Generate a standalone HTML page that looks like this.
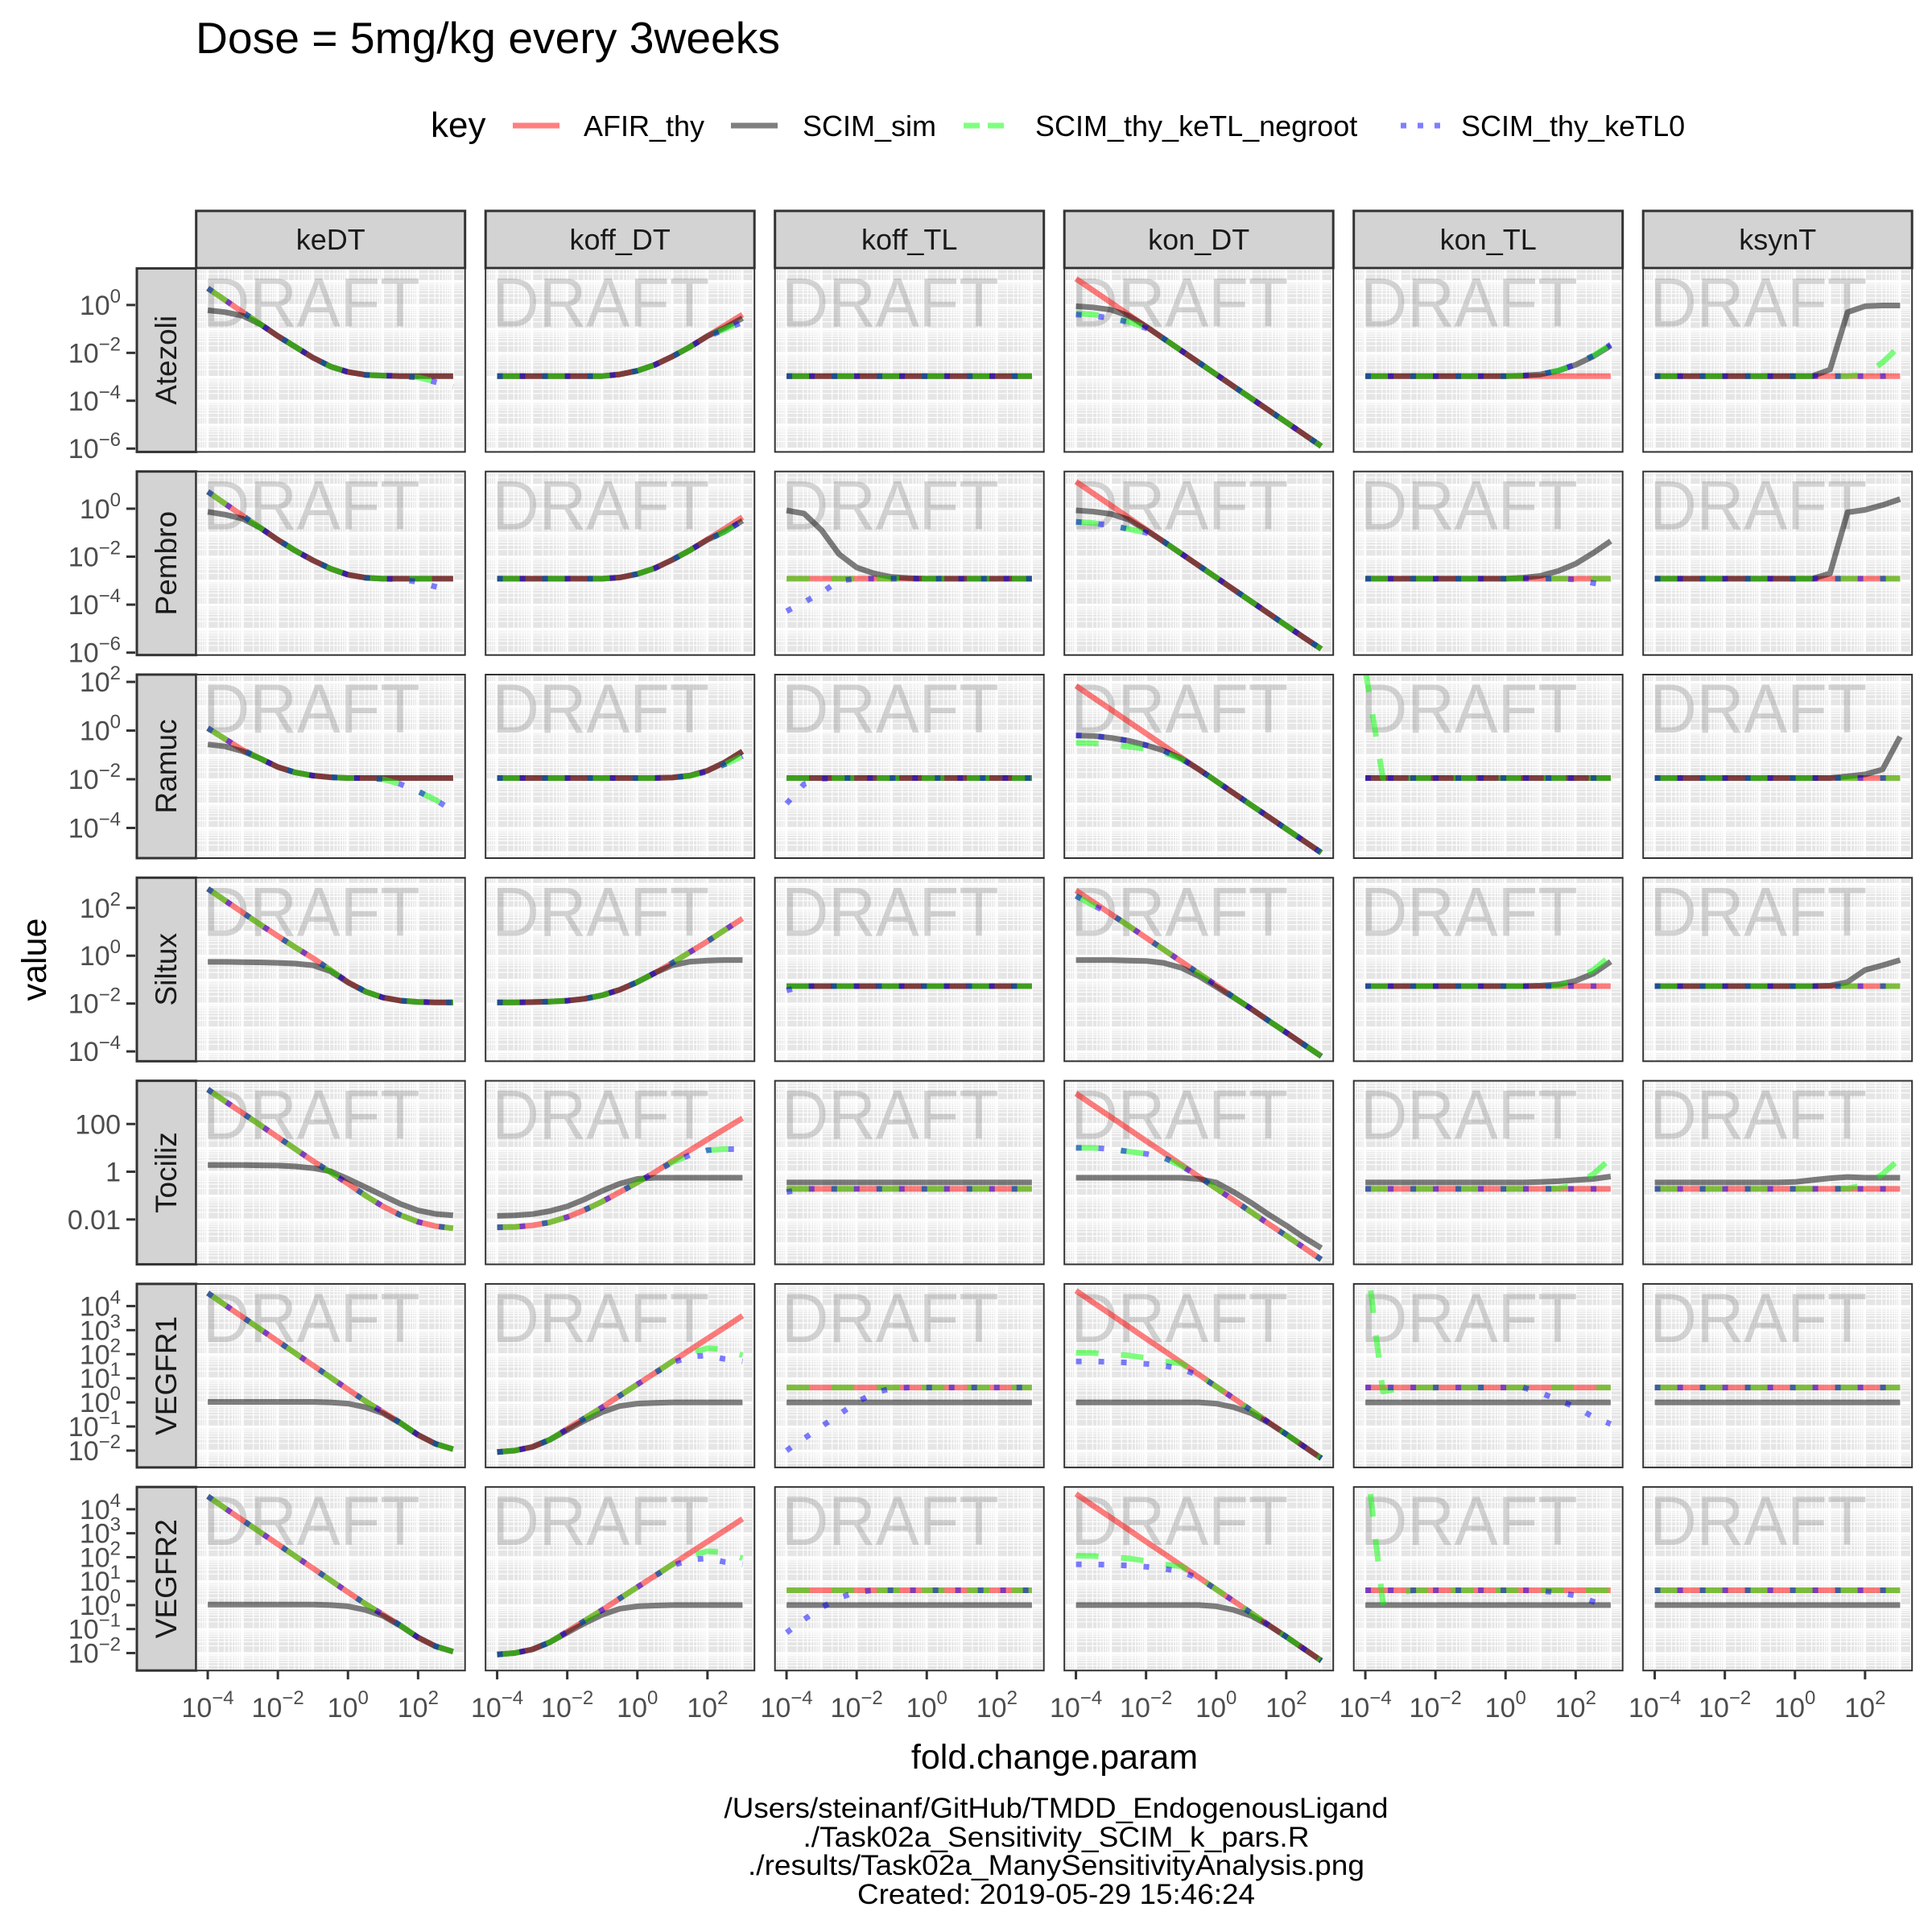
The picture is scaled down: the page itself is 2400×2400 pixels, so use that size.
<!DOCTYPE html>
<html><head><meta charset="utf-8">
<style>
html,body{margin:0;padding:0;background:#fff;}
svg{display:block;font-family:"Liberation Sans",Arial,sans-serif;}
</style></head>
<body>
<svg id="chart" width="2400" height="2400" viewBox="0 0 2400 2400" xmlns="http://www.w3.org/2000/svg">
<text x="243" y="66" font-size="55" fill="#000" textLength="726" lengthAdjust="spacingAndGlyphs">Dose = 5mg/kg every 3weeks</text>
<g>
<text x="535" y="170" font-size="44" fill="#000">key</text>
<g><line x1="637" y1="156" x2="695" y2="156" stroke="rgba(255,0,0,0.5)" stroke-width="7"/><text x="725" y="169" font-size="36" fill="#000">AFIR_thy</text></g>
<g><line x1="908" y1="156" x2="966" y2="156" stroke="rgba(0,0,0,0.5)" stroke-width="7"/><text x="997" y="169" font-size="36" fill="#000">SCIM_sim</text></g>
<g><line x1="1197" y1="156" x2="1255" y2="156" stroke="rgba(0,255,0,0.5)" stroke-width="7" stroke-dasharray="20 10"/><text x="1286" y="169" font-size="36" fill="#000">SCIM_thy_keTL_negroot</text></g>
<g><line x1="1740" y1="156" x2="1798" y2="156" stroke="rgba(0,0,255,0.5)" stroke-width="7" stroke-dasharray="7 14"/><text x="1815" y="169" font-size="36" fill="#000">SCIM_thy_keTL0</text></g>
</g>
<text x="1310" y="2197" font-size="43" text-anchor="middle" fill="#000">fold.change.param</text>
<text transform="translate(57,1192) rotate(-90)" font-size="43" text-anchor="middle" fill="#000">value</text>
<g font-size="35" fill="#000" text-anchor="middle">
<text x="1312" y="2258" textLength="825" lengthAdjust="spacingAndGlyphs">/Users/steinanf/GitHub/TMDD_EndogenousLigand</text>
<text x="1312" y="2294" textLength="629" lengthAdjust="spacingAndGlyphs">./Task02a_Sensitivity_SCIM_k_pars.R</text>
<text x="1312" y="2329" textLength="766" lengthAdjust="spacingAndGlyphs">./results/Task02a_ManySensitivityAnalysis.png</text>
<text x="1312" y="2365" textLength="494" lengthAdjust="spacingAndGlyphs">Created: 2019-05-29 15:46:24</text>
</g>
</svg>
<script>
const xLog = [-4,-3.5,-3,-2.5,-2,-1.5,-1,-0.5,0,0.5,1,1.5,2,2.5,3];
const colNames = ["keDT","koff_DT","koff_TL","kon_DT","kon_TL","ksynT"];
const rowNames = ["Atezoli","Pembro","Ramuc","Siltux","Tociliz","VEGFR1","VEGFR2"];
const rowTopLog = [1.53,1.55,2.30,3.26,3.81,4.92,4.93];
const rowBotLog = [-6.14,-6.1,-5.24,-4.41,-3.88,-2.70,-2.73];
const rowTicks = [[0,-2,-4,-6],[0,-2,-4,-6],[2,0,-2,-4],[2,0,-2,-4],[2,0,-2],[4,3,2,1,0,-1,-2],[4,3,2,1,0,-1,-2]];
const plainTickLabels = ["100","1","0.01"];
const xTicks = [-4,-2,0,2];
const seriesNames = ["AFIR_thy","SCIM_sim","SCIM_thy_keTL_negroot","SCIM_thy_keTL0"];

// Atezoli
const a_flat = [-2.97,-2.97,-2.97,-2.97,-2.97,-2.97,-2.97,-2.97,-2.97,-2.97,-2.97,-2.97,-2.97,-2.97,-2.97];
const a_keDT_afir = [0.7,0.2,-0.3,-0.8,-1.3,-1.75,-2.2,-2.57,-2.8,-2.92,-2.95,-2.97,-2.97,-2.97,-2.97];
const a_keDT_sim = [-0.22,-0.3,-0.45,-0.8,-1.3,-1.75,-2.2,-2.57,-2.8,-2.92,-2.95,-2.97,-2.97,-2.97,-2.97];
const a_keDT_neg = [0.7,0.2,-0.3,-0.8,-1.3,-1.75,-2.2,-2.57,-2.8,-2.92,-2.95,-2.97,-3.02,-3.2,-3.4];
const a_keDT_ke0 = [0.7,0.2,-0.3,-0.8,-1.3,-1.75,-2.2,-2.57,-2.8,-2.92,-2.95,-2.97,-3.03,-3.22,-3.42];
const a_koffDT_afir = [-2.97,-2.97,-2.97,-2.97,-2.97,-2.97,-2.97,-2.9,-2.75,-2.5,-2.15,-1.75,-1.3,-0.85,-0.4];
const a_koffDT_sim = [-2.97,-2.97,-2.97,-2.97,-2.97,-2.97,-2.97,-2.9,-2.75,-2.5,-2.15,-1.75,-1.3,-0.95,-0.55];
const a_koffDT_neg = [-2.97,-2.97,-2.97,-2.97,-2.97,-2.97,-2.97,-2.9,-2.75,-2.5,-2.15,-1.75,-1.3,-1.0,-0.7];
const a_koffDT_ke0 = [-2.97,-2.97,-2.97,-2.97,-2.97,-2.97,-2.97,-2.9,-2.75,-2.5,-2.15,-1.75,-1.32,-1.02,-0.72];
const a_konDT_afir = [1.1,0.6,0.1,-0.4,-0.9,-1.4,-1.9,-2.4,-2.9,-3.4,-3.9,-4.4,-4.9,-5.4,-5.9];
const a_konDT_sim = [-0.05,-0.1,-0.2,-0.45,-0.9,-1.4,-1.9,-2.4,-2.9,-3.4,-3.9,-4.4,-4.9,-5.4,-5.9];
const a_konDT_neg = [-0.35,-0.4,-0.5,-0.7,-0.95,-1.4,-1.9,-2.4,-2.9,-3.4,-3.9,-4.4,-4.9,-5.4,-5.9];
const a_konDT_ke0 = [-0.4,-0.45,-0.55,-0.72,-0.97,-1.4,-1.9,-2.4,-2.9,-3.4,-3.9,-4.4,-4.9,-5.4,-5.9];
const a_konTL_sim = [-2.97,-2.97,-2.97,-2.97,-2.97,-2.97,-2.97,-2.97,-2.97,-2.95,-2.9,-2.75,-2.5,-2.15,-1.7];
const a_konTL_neg = [-2.97,-2.97,-2.97,-2.97,-2.97,-2.97,-2.97,-2.97,-2.97,-2.95,-2.9,-2.74,-2.48,-2.12,-1.65];
const a_ksynT_sim = [-2.97,-2.97,-2.97,-2.97,-2.97,-2.97,-2.97,-2.97,-2.97,-2.97,-2.7,-0.3,-0.05,-0.02,-0.02];
const a_ksynT_neg = [-2.97,-2.97,-2.97,-2.97,-2.97,-2.97,-2.97,-2.97,-2.97,-2.97,-2.97,-2.97,-2.9,-2.4,-1.7];

// Pembro
const p_flat = [-2.92,-2.92,-2.92,-2.92,-2.92,-2.92,-2.92,-2.92,-2.92,-2.92,-2.92,-2.92,-2.92,-2.92,-2.92];
const p_keDT_afir = [0.71,0.2,-0.3,-0.8,-1.3,-1.75,-2.15,-2.5,-2.75,-2.88,-2.92,-2.92,-2.92,-2.92,-2.92];
const p_keDT_sim = [-0.13,-0.25,-0.42,-0.8,-1.3,-1.75,-2.15,-2.5,-2.75,-2.88,-2.92,-2.92,-2.92,-2.92,-2.92];
const p_keDT_ke0 = [0.71,0.2,-0.3,-0.8,-1.3,-1.75,-2.15,-2.5,-2.75,-2.88,-2.92,-2.95,-3.05,-3.25,-3.45];
const p_koffDT_afir = [-2.92,-2.92,-2.92,-2.92,-2.92,-2.92,-2.92,-2.87,-2.72,-2.48,-2.13,-1.73,-1.28,-0.83,-0.35];
const p_koffDT_sim = [-2.92,-2.92,-2.92,-2.92,-2.92,-2.92,-2.92,-2.87,-2.72,-2.48,-2.13,-1.73,-1.3,-0.95,-0.5];
const p_koffTL_sim = [-0.07,-0.2,-0.9,-1.9,-2.45,-2.7,-2.85,-2.9,-2.92,-2.92,-2.92,-2.92,-2.92,-2.92,-2.92];
const p_koffTL_ke0 = [-4.27,-3.9,-3.5,-3.0,-2.92,-2.92,-2.92,-2.92,-2.92,-2.92,-2.92,-2.92,-2.92,-2.92,-2.92];
const p_konDT_afir = [1.13,0.63,0.13,-0.37,-0.87,-1.37,-1.87,-2.37,-2.87,-3.37,-3.87,-4.37,-4.87,-5.37,-5.85];
const p_konDT_sim = [-0.07,-0.12,-0.22,-0.45,-0.9,-1.37,-1.87,-2.37,-2.87,-3.37,-3.87,-4.37,-4.87,-5.37,-5.85];
const p_konDT_ke0 = [-0.55,-0.6,-0.7,-0.85,-1.0,-1.37,-1.87,-2.37,-2.87,-3.37,-3.87,-4.37,-4.87,-5.37,-5.85];
const p_konTL_sim = [-2.92,-2.92,-2.92,-2.92,-2.92,-2.92,-2.92,-2.92,-2.92,-2.88,-2.8,-2.6,-2.3,-1.85,-1.35];
const p_konTL_ke0 = [-2.92,-2.92,-2.92,-2.92,-2.92,-2.92,-2.92,-2.92,-2.92,-2.92,-2.92,-2.92,-2.95,-3.1,-3.2];
const p_ksynT_sim = [-2.92,-2.92,-2.92,-2.92,-2.92,-2.92,-2.92,-2.92,-2.92,-2.92,-2.7,-0.15,-0.05,0.15,0.4];

// Ramuc
const r_flat = [-1.95,-1.95,-1.95,-1.95,-1.95,-1.95,-1.95,-1.95,-1.95,-1.95,-1.95,-1.95,-1.95,-1.95,-1.95];
const r_keDT_afir = [0.1,-0.35,-0.8,-1.15,-1.5,-1.72,-1.85,-1.92,-1.95,-1.95,-1.95,-1.95,-1.95,-1.95,-1.95];
const r_keDT_sim = [-0.57,-0.65,-0.85,-1.15,-1.5,-1.72,-1.85,-1.92,-1.95,-1.95,-1.95,-1.95,-1.95,-1.95,-1.95];
const r_keDT_neg = [0.1,-0.35,-0.8,-1.15,-1.5,-1.72,-1.85,-1.92,-1.95,-1.95,-2.0,-2.2,-2.5,-2.85,-3.3];
const r_koffDT_afir = [-1.95,-1.95,-1.95,-1.95,-1.95,-1.95,-1.95,-1.95,-1.95,-1.95,-1.93,-1.85,-1.65,-1.3,-0.85];
const r_koffDT_neg = [-1.95,-1.95,-1.95,-1.95,-1.95,-1.95,-1.95,-1.95,-1.95,-1.95,-1.93,-1.86,-1.68,-1.38,-1.05];
const r_koffTL_ke0 = [-3.0,-2.2,-1.98,-1.95,-1.95,-1.95,-1.95,-1.95,-1.95,-1.95,-1.95,-1.95,-1.95,-1.95,-1.95];
const r_konDT_afir = [1.84,1.35,0.86,0.37,-0.12,-0.61,-1.1,-1.59,-2.08,-2.57,-3.06,-3.55,-4.04,-4.53,-5.02];
const r_konDT_sim = [-0.2,-0.22,-0.3,-0.42,-0.6,-0.82,-1.15,-1.59,-2.08,-2.57,-3.06,-3.55,-4.04,-4.53,-5.02];
const r_konDT_neg = [-0.5,-0.52,-0.58,-0.66,-0.75,-0.9,-1.17,-1.59,-2.08,-2.57,-3.06,-3.55,-4.04,-4.53,-5.02];
const r_konTL_neg = [2.5,-1.95,-1.95,-1.95,-1.95,-1.95,-1.95,-1.95,-1.95,-1.95,-1.95,-1.95,-1.95,-1.95,-1.95];
const r_ksynT_sim = [-1.95,-1.95,-1.95,-1.95,-1.95,-1.95,-1.95,-1.95,-1.95,-1.95,-1.95,-1.88,-1.8,-1.6,-0.25];

// Siltux
const s_flat = [-1.27,-1.27,-1.27,-1.27,-1.27,-1.27,-1.27,-1.27,-1.27,-1.27,-1.27,-1.27,-1.27,-1.27,-1.27];
const s_keDT_afir = [2.8,2.3,1.8,1.3,0.82,0.35,-0.1,-0.6,-1.1,-1.5,-1.75,-1.88,-1.93,-1.95,-1.95];
const s_keDT_sim = [-0.26,-0.26,-0.27,-0.28,-0.3,-0.33,-0.4,-0.65,-1.12,-1.5,-1.75,-1.88,-1.93,-1.95,-1.95];
const s_koffDT_afir = [-1.95,-1.95,-1.94,-1.92,-1.88,-1.8,-1.65,-1.42,-1.1,-0.72,-0.3,0.15,0.6,1.08,1.55];
const s_koffDT_sim = [-1.95,-1.95,-1.94,-1.92,-1.88,-1.8,-1.65,-1.42,-1.1,-0.72,-0.4,-0.25,-0.2,-0.18,-0.18];
const s_koffTL_ke0 = [-1.45,-1.27,-1.27,-1.27,-1.27,-1.27,-1.27,-1.27,-1.27,-1.27,-1.27,-1.27,-1.27,-1.27,-1.27];
const s_konDT_afir = [2.73,2.24,1.74,1.25,0.75,0.26,-0.24,-0.74,-1.23,-1.73,-2.22,-2.72,-3.21,-3.71,-4.2];
const s_konDT_sim = [-0.18,-0.18,-0.18,-0.2,-0.22,-0.3,-0.5,-0.85,-1.3,-1.75,-2.22,-2.72,-3.21,-3.71,-4.2];
const s_konDT_neg = [2.5,2.1,1.74,1.25,0.75,0.26,-0.24,-0.74,-1.23,-1.73,-2.22,-2.72,-3.21,-3.71,-4.2];
const s_konTL_sim = [-1.27,-1.27,-1.27,-1.27,-1.27,-1.27,-1.27,-1.27,-1.27,-1.27,-1.25,-1.2,-1.05,-0.75,-0.25];
const s_konTL_neg = [-1.27,-1.27,-1.27,-1.27,-1.27,-1.27,-1.27,-1.27,-1.27,-1.27,-1.27,-1.27,-1.0,-0.6,0.0];
const s_ksynT_sim = [-1.27,-1.27,-1.27,-1.27,-1.27,-1.27,-1.27,-1.27,-1.27,-1.27,-1.25,-1.1,-0.6,-0.4,-0.18];

// Tociliz
const t_flat = [-0.72,-0.72,-0.72,-0.72,-0.72,-0.72,-0.72,-0.72,-0.72,-0.72,-0.72,-0.72,-0.72,-0.72,-0.72];
const t_simflat = [-0.45,-0.45,-0.45,-0.45,-0.45,-0.45,-0.45,-0.45,-0.45,-0.45,-0.45,-0.45,-0.45,-0.45,-0.45];
const t_keDT_afir = [3.45,2.95,2.45,1.95,1.45,0.95,0.45,-0.02,-0.5,-1.0,-1.45,-1.82,-2.1,-2.28,-2.37];
const t_keDT_sim = [0.28,0.28,0.28,0.27,0.26,0.22,0.15,0.02,-0.3,-0.65,-1.0,-1.35,-1.62,-1.77,-1.83];
const t_koffDT_afir = [-2.33,-2.31,-2.25,-2.12,-1.9,-1.6,-1.25,-0.85,-0.45,-0.02,0.45,0.9,1.35,1.8,2.24];
const t_koffDT_sim = [-1.85,-1.83,-1.78,-1.65,-1.45,-1.15,-0.8,-0.5,-0.3,-0.25,-0.25,-0.25,-0.25,-0.25,-0.25];
const t_koffDT_neg = [-2.33,-2.31,-2.25,-2.12,-1.9,-1.6,-1.25,-0.85,-0.45,-0.02,0.4,0.7,0.9,0.95,0.94];
const t_koffTL_ke0 = [-0.85,-0.72,-0.72,-0.72,-0.72,-0.72,-0.72,-0.72,-0.72,-0.72,-0.72,-0.72,-0.72,-0.72,-0.72];
const t_konDT_afir = [3.28,2.78,2.29,1.79,1.29,0.8,0.3,-0.2,-0.7,-1.19,-1.69,-2.19,-2.68,-3.18,-3.68];
const t_konDT_sim = [-0.25,-0.25,-0.25,-0.25,-0.25,-0.25,-0.25,-0.3,-0.45,-0.85,-1.3,-1.8,-2.25,-2.75,-3.2];
const t_konDT_neg = [1.0,1.0,0.95,0.85,0.75,0.6,0.25,-0.2,-0.7,-1.19,-1.69,-2.19,-2.68,-3.18,-3.68];
const t_konTL_sim = [-0.45,-0.45,-0.45,-0.45,-0.45,-0.45,-0.45,-0.45,-0.45,-0.45,-0.43,-0.4,-0.35,-0.3,-0.2];
const t_konTL_neg = [-0.72,-0.72,-0.72,-0.72,-0.72,-0.72,-0.72,-0.72,-0.72,-0.72,-0.72,-0.7,-0.55,-0.1,0.55];
const t_ksynT_sim = [-0.45,-0.45,-0.45,-0.45,-0.45,-0.45,-0.45,-0.45,-0.43,-0.35,-0.27,-0.22,-0.25,-0.25,-0.25];

// VEGFR1 / VEGFR2
const v_top = [0.62,0.62,0.62,0.62,0.62,0.62,0.62,0.62,0.62,0.62,0.62,0.62,0.62,0.62,0.62];
const v_zero = [0,0,0,0,0,0,0,0,0,0,0,0,0,0,0];
const v_keDT_afir = [4.54,4.04,3.54,3.04,2.54,2.04,1.54,1.04,0.54,0.05,-0.4,-0.85,-1.35,-1.72,-1.94];
const v_keDT_sim = [0.02,0.02,0.02,0.02,0.02,0.02,0.02,0.0,-0.05,-0.2,-0.45,-0.87,-1.35,-1.72,-1.94];
const v_koffDT_afir = [-2.06,-2.0,-1.85,-1.55,-1.1,-0.65,-0.2,0.28,0.75,1.22,1.7,2.18,2.65,3.12,3.6];
const v_koffDT_sim = [-2.06,-2.0,-1.85,-1.55,-1.15,-0.75,-0.4,-0.15,-0.05,-0.02,0,0,0,0,0];
const v_koffDT_neg = [-2.06,-2.0,-1.85,-1.55,-1.1,-0.65,-0.2,0.28,0.75,1.22,1.7,2.05,2.25,2.2,1.96];
const v_koffDT_ke0 = [-2.06,-2.0,-1.85,-1.55,-1.1,-0.65,-0.2,0.28,0.75,1.22,1.65,1.9,1.95,1.8,1.7];
const v_koffTL_ke0 = [-2.0,-1.5,-1.0,-0.5,0.0,0.4,0.58,0.62,0.62,0.62,0.62,0.62,0.62,0.62,0.62];
const v_konDT_afir = [4.64,4.14,3.65,3.15,2.65,2.16,1.66,1.16,0.66,0.17,-0.33,-0.83,-1.32,-1.82,-2.32];
const v_konDT_sim = [0,0,0,0,0,0,0,0,-0.05,-0.2,-0.45,-0.85,-1.32,-1.82,-2.32];
const v_konDT_neg = [2.06,2.05,2.0,1.95,1.85,1.7,1.62,1.16,0.66,0.17,-0.33,-0.83,-1.32,-1.82,-2.32];
const v_konDT_ke0 = [1.7,1.7,1.68,1.65,1.6,1.52,1.4,1.12,0.66,0.17,-0.33,-0.83,-1.32,-1.82,-2.32];
const v_konTL_neg = [6.5,0.45,0.58,0.62,0.62,0.62,0.62,0.62,0.62,0.62,0.62,0.62,0.62,0.62,0.62];
const v_konTL_ke0 = [0.62,0.62,0.62,0.62,0.62,0.62,0.62,0.62,0.62,0.62,0.4,0.1,-0.2,-0.6,-0.9];
const w_koffTL_ke0 = [-1.15,-0.6,-0.1,0.3,0.55,0.62,0.62,0.62,0.62,0.62,0.62,0.62,0.62,0.62,0.62];
const w_konTL_neg = [6.5,0.1,0.55,0.62,0.62,0.62,0.62,0.62,0.62,0.62,0.62,0.62,0.62,0.62,0.62];
const w_konTL_ke0 = [0.62,0.62,0.62,0.62,0.62,0.62,0.62,0.62,0.62,0.62,0.6,0.52,0.4,0.15,-0.1];

// panel -> [AFIR_thy, SCIM_sim, negroot, keTL0]
const panelSeries = [
 [[a_keDT_afir,a_keDT_sim,a_keDT_neg,a_keDT_ke0],[a_koffDT_afir,a_koffDT_sim,a_koffDT_neg,a_koffDT_ke0],[a_flat,a_flat,a_flat,a_flat],[a_konDT_afir,a_konDT_sim,a_konDT_neg,a_konDT_ke0],[a_flat,a_konTL_sim,a_konTL_neg,a_konTL_neg],[a_flat,a_ksynT_sim,a_ksynT_neg,a_flat]],
 [[p_keDT_afir,p_keDT_sim,p_keDT_afir,p_keDT_ke0],[p_koffDT_afir,p_koffDT_sim,p_koffDT_sim,p_koffDT_sim],[p_flat,p_koffTL_sim,p_flat,p_koffTL_ke0],[p_konDT_afir,p_konDT_sim,p_konDT_ke0,p_konDT_ke0],[p_flat,p_konTL_sim,p_flat,p_konTL_ke0],[p_flat,p_ksynT_sim,p_flat,p_flat]],
 [[r_keDT_afir,r_keDT_sim,r_keDT_neg,r_keDT_neg],[r_koffDT_afir,r_koffDT_afir,r_koffDT_neg,r_koffDT_neg],[r_flat,r_flat,r_flat,r_koffTL_ke0],[r_konDT_afir,r_konDT_sim,r_konDT_neg,r_konDT_sim],[r_flat,r_flat,r_konTL_neg,r_flat],[r_flat,r_ksynT_sim,r_flat,r_flat]],
 [[s_keDT_afir,s_keDT_sim,s_keDT_afir,s_keDT_afir],[s_koffDT_afir,s_koffDT_sim,s_koffDT_afir,s_koffDT_afir],[s_flat,s_flat,s_flat,s_koffTL_ke0],[s_konDT_afir,s_konDT_sim,s_konDT_neg,s_konDT_neg],[s_flat,s_konTL_sim,s_konTL_neg,s_flat],[s_flat,s_ksynT_sim,s_flat,s_flat]],
 [[t_keDT_afir,t_keDT_sim,t_keDT_afir,t_keDT_afir],[t_koffDT_afir,t_koffDT_sim,t_koffDT_neg,t_koffDT_neg],[t_flat,t_simflat,t_flat,t_koffTL_ke0],[t_konDT_afir,t_konDT_sim,t_konDT_neg,t_konDT_neg],[t_flat,t_konTL_sim,t_konTL_neg,t_flat],[t_flat,t_ksynT_sim,t_konTL_neg,t_flat]],
 [[v_keDT_afir,v_keDT_sim,v_keDT_afir,v_keDT_afir],[v_koffDT_afir,v_koffDT_sim,v_koffDT_neg,v_koffDT_ke0],[v_top,v_zero,v_top,v_koffTL_ke0],[v_konDT_afir,v_konDT_sim,v_konDT_neg,v_konDT_ke0],[v_top,v_zero,v_konTL_neg,v_konTL_ke0],[v_top,v_zero,v_top,v_top]],
 [[v_keDT_afir,v_keDT_sim,v_keDT_afir,v_keDT_afir],[v_koffDT_afir,v_koffDT_sim,v_koffDT_neg,v_koffDT_ke0],[v_top,v_zero,v_top,w_koffTL_ke0],[v_konDT_afir,v_konDT_sim,v_konDT_neg,v_konDT_ke0],[v_top,v_zero,w_konTL_neg,w_konTL_ke0],[v_top,v_zero,v_top,v_top]]
];

(function(){
const NS = "http://www.w3.org/2000/svg";
const svg = document.getElementById("chart");
const PL = 243.7, PP = 359.5, PW = 334, PT = 333.4, RP = 252.3, PH = 228;
const XMIN = -4.33, XMAX = 3.34;
const strokes = ["rgba(255,0,0,0.5)","rgba(0,0,0,0.5)","rgba(0,255,0,0.5)","rgba(0,0,255,0.5)"];
const dashes = [null,null,"28 28","7 21"];
const slug = ["afir-thy","scim-sim","negroot","ketl0"];
function el(tag, attrs, parent){
  const e = document.createElementNS(NS, tag);
  for (const k in attrs) e.setAttribute(k, attrs[k]);
  (parent||svg).appendChild(e);
  return e;
}
const defs = el("defs", {});
function xScale(c, lx){ return PL + c*PP + (lx - XMIN)/(XMAX - XMIN)*PW; }
function yScale(r, ly){ return PT + r*RP + (rowTopLog[r] - ly)/(rowTopLog[r] - rowBotLog[r])*PH; }

for (let c = 0; c < 6; c++) {
  const g = el("g", {});
  
  
  el("rect", {x: PL + c*PP, y: 262, width: PW, height: 71, fill: "#D3D3D3", stroke: "#333", "stroke-width": 3}, g);
  const t = el("text", {x: PL + c*PP + PW/2, y: 310, "font-size": 36, "text-anchor": "middle", fill: "#1A1A1A"}, g);
  t.textContent = colNames[c];
}
for (let r = 0; r < 7; r++) {
  const top = PT + r*RP;
  const sg = el("g", {});
  
  
  el("rect", {x: 170, y: top, width: 73.7, height: PH, fill: "#D3D3D3", stroke: "#333", "stroke-width": 3}, sg);
  const st = el("text", {transform: "translate(219," + (top + PH/2) + ") rotate(-90)", "font-size": 37, "text-anchor": "middle", fill: "#1A1A1A"}, sg);
  st.textContent = rowNames[r];
  const ya = el("g", {});
  
  
  rowTicks[r].forEach((tv, i) => {
    const y = yScale(r, tv);
    el("line", {x1: 157, x2: 168, y1: y, y2: y, stroke: "#333", "stroke-width": 3}, ya);
    const t = el("text", {x: 150, y: y + 12, "font-size": 34, "text-anchor": "end", fill: "#4D4D4D"}, ya);
    if (r === 4) { t.textContent = plainTickLabels[i]; }
    else {
      const b = el("tspan", {}, t); b.textContent = "10";
      const s = el("tspan", {dy: -15, "font-size": 24}, t); s.textContent = (tv < 0 ? "\u2212" + (-tv) : "" + tv);
    }
  });
  for (let c = 0; c < 6; c++) {
    const left = PL + c*PP;
    const pg = el("g", {});
    
    
    const cp = el("clipPath", {id: "cp" + r + "_" + c}, defs);
    el("rect", {x: left, y: top, width: PW, height: PH}, cp);
    el("rect", {x: left, y: top, width: PW, height: PH, fill: "#E5E5E5"}, pg);
    const grid = el("g", {"clip-path": "url(#cp" + r + "_" + c + ")", stroke: "#fff"}, pg);
    for (let d = -5; d <= 3; d++) for (let m = 1; m <= 9; m++) {
      const lx = d + Math.log10(m);
      if (lx < XMIN || lx > XMAX) continue;
      const x = xScale(c, lx);
      el("line", {x1: x, x2: x, y1: top, y2: top + PH, "stroke-width": m === 1 ? 2.2 : 1.1}, grid);
    }
    for (let d = Math.floor(rowBotLog[r]); d <= Math.ceil(rowTopLog[r]); d++) for (let m = 1; m <= 9; m++) {
      const ly = d + Math.log10(m);
      if (ly < rowBotLog[r] || ly > rowTopLog[r]) continue;
      const y = yScale(r, ly);
      el("line", {x1: left, x2: left + PW, y1: y, y2: y, "stroke-width": m === 1 ? 2.2 : 1.1}, grid);
    }
    const wm = el("text", {x: left + 8, y: top + 72, "font-size": 86, fill: "rgba(150,150,150,0.4)", textLength: 270, lengthAdjust: "spacingAndGlyphs"}, pg);
    
    
    wm.textContent = "DRAFT";
    const lg = el("g", {"clip-path": "url(#cp" + r + "_" + c + ")"}, pg);
    panelSeries[r][c].forEach((vals, s) => {
      const pts = vals.map((v, i) => xScale(c, xLog[i]).toFixed(1) + "," + yScale(r, v).toFixed(1)).join(" ");
      const pl = el("polyline", {points: pts, fill: "none", stroke: strokes[s], "stroke-width": 7, "stroke-linejoin": "round"}, lg);
      if (dashes[s]) pl.setAttribute("stroke-dasharray", dashes[s]);
      
      
    });
    el("rect", {x: left, y: top, width: PW, height: PH, fill: "none", stroke: "#333", "stroke-width": 2}, pg);
    if (r === 6) {
      const xa = el("g", {});
      
      
      xTicks.forEach(tv => {
        const x = xScale(c, tv);
        el("line", {x1: x, x2: x, y1: top + PH, y2: top + PH + 11, stroke: "#333", "stroke-width": 3}, xa);
        const t = el("text", {x: x, y: 2133, "font-size": 34, "text-anchor": "middle", fill: "#4D4D4D"}, xa);
        const b = el("tspan", {}, t); b.textContent = "10";
        const sp = el("tspan", {dy: -16, "font-size": 24}, t); sp.textContent = (tv < 0 ? "\u2212" + (-tv) : "" + tv);
      });
    }
  }
}
})();
</script>
</body></html>
